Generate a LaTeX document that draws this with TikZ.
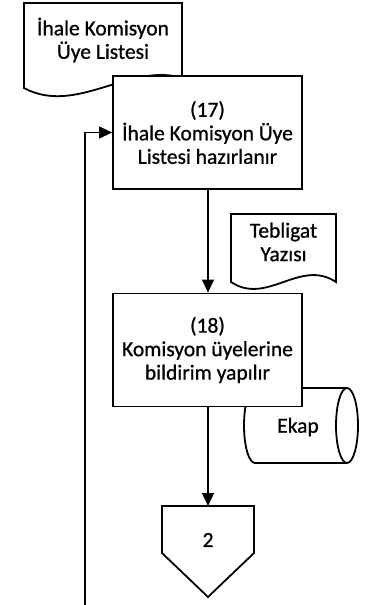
\documentclass[tikz,border=0pt]{standalone}
\usepackage{fontspec}
\setmainfont{Carlito}[FakeBold=0.8]
\usetikzlibrary{arrows.meta}
\tikzset{
  shp/.style={draw=black, line width=1.8pt, fill=white, line join=miter},
  procbox/.style={shp, minimum width=189pt, minimum height=113pt, align=center, inner sep=2pt},
  lbl/.style={align=center},
  conn/.style={draw=black, line width=1.3pt, -{Triangle[length=13pt,width=12pt]}},
}
\begin{document}
\begin{tikzpicture}[x=1pt,y=-1pt, every node/.style={font=\fontsize{21.5}{23.5}\selectfont}]
\useasboundingbox (0,0) rectangle (368,605);
% Document 1
\draw[shp] (24,3) -- (182,3) -- (182,78)
  .. controls (130,62) and (76,116) .. (24,88) -- cycle;
\node[lbl] (doc1) at (103,40) {İhale Komisyon\\Üye Listesi};
% Tebligat document
\draw[shp] (231,214) -- (336,214) -- (336,282)
  .. controls (300,258) and (267,306) .. (231,282) -- cycle;
\node[lbl] (doc2) at (283.5,242) {Tebligat\\Yazısı};
% Ekap storage
\draw[shp] (255,388) -- (347,388)
  arc[start angle=-90, end angle=90, x radius=11, y radius=37.5]
  -- (255,463)
  arc[start angle=90, end angle=270, x radius=11, y radius=37.5] -- cycle;
\draw[shp, fill=none] (347,388) arc[start angle=270, end angle=90, x radius=11, y radius=37.5];
\node (ekap) at (298,427) {Ekap};
% Process boxes
\node[procbox] (p17) at (207.5,132.5) {(17)\\İhale Komisyon Üye\\Listesi hazırlanır};
\node[procbox] (p18) at (207.5,350) {(18)\\Komisyon üyelerine\\bildirim yapılır};
% Off-page connector
\draw[shp] (162,506) -- (254,506) -- (254,553) -- (208,597) -- (162,553) -- cycle;
\coordinate (pent) at (208,506);
\node (two) at (208,540) {2};
% Connectors
\draw[conn] (p17.south -| pent) -- (p18.north -| pent);
\draw[conn] (p18.south -| pent) -- (pent);
\coordinate (fb) at (85,605);
\draw[conn] (fb) |- (p17.west);
\end{tikzpicture}
\end{document}
